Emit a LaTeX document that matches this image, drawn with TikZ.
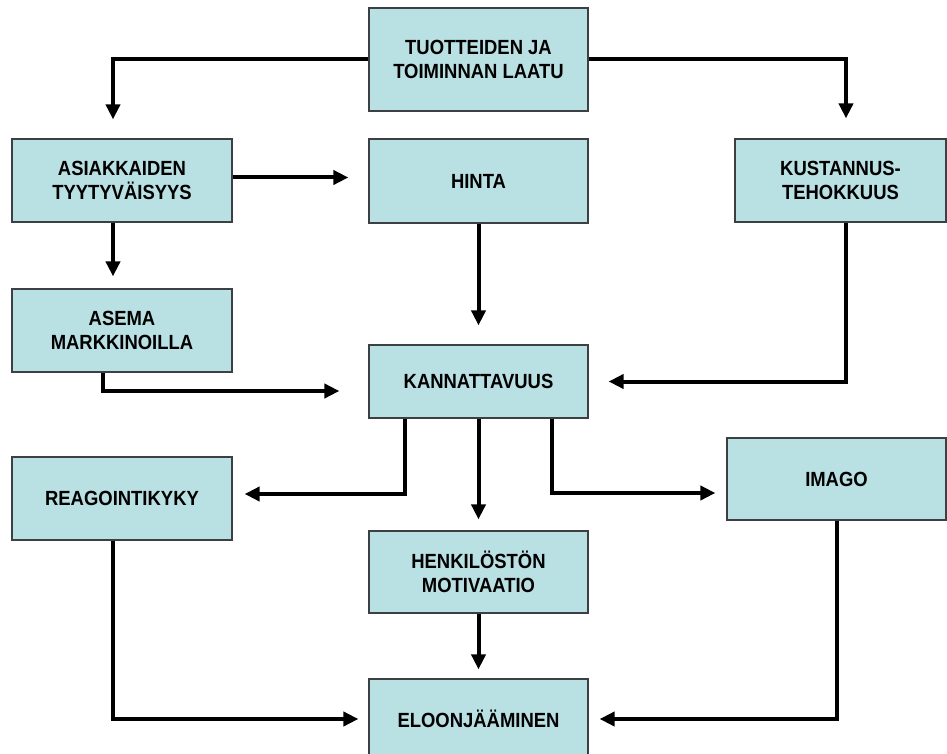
\documentclass[tikz,border=0pt]{standalone}
\usepackage{fontspec}
\setmainfont{Liberation Sans}
\newfontfamily\boxfont[FakeStretch=0.9]{Liberation Sans}
\usetikzlibrary{arrows.meta}

\definecolor{boxfill}{RGB}{185,224,227}
\definecolor{boxline}{RGB}{60,64,66}

\begin{document}
\begin{tikzpicture}[x=1pt, y=-1pt,
        box/.style={draw=boxline, line width=1.2pt, fill=boxfill, align=center,
            font=\boxfont\bfseries\fontsize{20.5}{24}\selectfont, inner sep=2pt},
        arr/.style={line width=4pt, -{Triangle[length=15pt, width=14pt]}}]
    \useasboundingbox (0,0) rectangle (947,754);

    % boxes
    \node[box, minimum width=219pt, minimum height=103pt] (laatu) at (478.5,59.5) {TUOTTEIDEN JA\\TOIMINNAN LAATU};
    \node[box, minimum width=220pt, minimum height=83pt] (tyytyvaisyys) at (122,180.5) {ASIAKKAIDEN\\TYYTYVÄISYYS};
    \node[box, minimum width=219pt, minimum height=84pt] (hinta) at (478.5,181) {HINTA};
    \node[box, minimum width=211pt, minimum height=83pt] (kustannus) at (840.5,180.5) {KUSTANNUS-\\TEHOKKUUS};
    \node[box, minimum width=220pt, minimum height=83pt] (asema) at (122,330.5) {ASEMA\\MARKKINOILLA};
    \node[box, minimum width=219pt, minimum height=73pt] (kannattavuus) at (478.5,381.5) {KANNATTAVUUS};
    \node[box, minimum width=220pt, minimum height=83pt] (reagointi) at (122,498.5) {REAGOINTIKYKY};
    \node[box, minimum width=219pt, minimum height=82pt] (imago) at (836.5,479) {IMAGO};
    \node[box, minimum width=219pt, minimum height=82pt] (motivaatio) at (478.5,572) {HENKILÖSTÖN\\MOTIVAATIO};
    \node[box, minimum width=219pt, minimum height=80pt] (eloon) at (478.5,719) {ELOONJÄÄMINEN};

    % connectors
    \draw[arr, shorten >=19pt] (laatu.west) -| ([xshift=-9pt]tyytyvaisyys.north);
    \draw[arr, shorten >=20pt] (laatu.east) -| ([xshift=5.5pt]kustannus.north);
    \draw[arr, shorten >=20pt] ([yshift=3pt]tyytyvaisyys.east) -- ([yshift=3pt]tyytyvaisyys.east -| hinta.west);
    \draw[arr, shorten >=12pt] ([xshift=-9pt]tyytyvaisyys.south) -- ([xshift=-9pt]asema.north);
    \draw[arr, shorten >=19pt] (hinta.south) -- (kannattavuus.north);
    \draw[arr, shorten >=20pt] ([xshift=5.5pt]kustannus.south) |- (kannattavuus.east);
    \draw[arr, shorten >=29pt] ([xshift=-19pt]asema.south) |- ([yshift=-9.5pt]kannattavuus.west);
    \draw[arr, shorten >=12pt] ([xshift=-73.5pt]kannattavuus.south) |- ([yshift=4.5pt]reagointi.east);
    \draw[arr, shorten >=11pt] (kannattavuus.south) -- (motivaatio.north);
    \draw[arr, shorten >=11pt] ([xshift=73pt]kannattavuus.south) |- ([yshift=-14pt]imago.west);
    \draw[arr, shorten >=10pt] ([xshift=-9pt]reagointi.south) |- (eloon.west);
    \draw[arr, shorten >=9pt] (motivaatio.south) -- (eloon.north);
    \draw[arr, shorten >=11pt] (imago.south) |- (eloon.east);
\end{tikzpicture}
\end{document}
